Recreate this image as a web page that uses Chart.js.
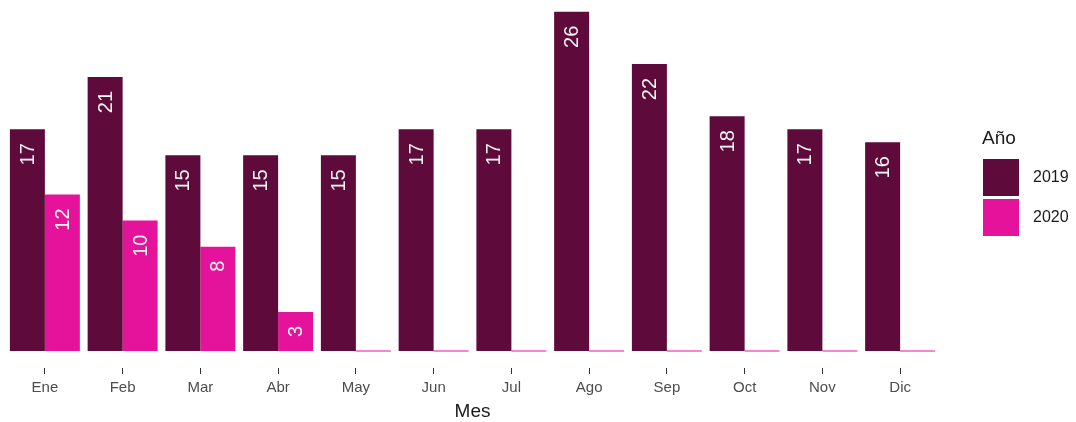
<!DOCTYPE html>
<html>
<head>
<meta charset="utf-8">
<script src="https://cdn.jsdelivr.net/npm/chart.js@4"></script>
<style>
  html, body { margin: 0; padding: 0; background: #fff; }
  #wrap { width: 1076px; height: 422px; position: relative; }
</style>
</head>
<body>
<div id="wrap"><canvas id="mesChart"></canvas></div>
<script>
// data
const meses = ['Ene', 'Feb', 'Mar', 'Abr', 'May', 'Jun', 'Jul', 'Ago', 'Sep', 'Oct', 'Nov', 'Dic'];
const anios = ['2019', '2020'];
const valores2019 = [17, 21, 15, 15, 15, 17, 17, 26, 22, 18, 17, 16];
const valores2020 = [12, 10, 8, 3, 0, 0, 0, 0, 0, 0, 0, 0];
const colores = ['#5e0a3b', '#e5139b'];

const FONT = '"Liberation Sans", Arial, sans-serif';

// rotated value labels inside the bars
const barLabels = {
  id: 'barLabels',
  afterDatasetsDraw(chart) {
    const ctx = chart.ctx;
    ctx.save();
    ctx.fillStyle = '#f4f4f4';
    ctx.font = '20px ' + FONT;
    ctx.textAlign = 'right';
    ctx.textBaseline = 'middle';
    chart.data.datasets.forEach((ds, i) => {
      chart.getDatasetMeta(i).data.forEach((bar, j) => {
        const v = ds.data[j];
        if (!v) return;
        ctx.save();
        ctx.translate(bar.x, bar.y + 14);
        ctx.rotate(-Math.PI / 2);
        ctx.fillText(String(v), 0, 1);
        ctx.restore();
      });
    });
    ctx.restore();
  }
};

// legend on the right, ggplot style
const sideLegend = {
  id: 'sideLegend',
  afterDraw(chart) {
    const ctx = chart.ctx;
    ctx.save();
    ctx.textBaseline = 'middle';
    ctx.textAlign = 'left';
    ctx.fillStyle = '#1a1a1a';
    ctx.font = '19px ' + FONT;
    ctx.fillText('Año', 982, 139);
    chart.data.datasets.forEach((ds, i) => {
      const y = 159 + i * 40;
      ctx.fillStyle = ds.backgroundColor;
      ctx.fillRect(983, y, 36, 37);
      ctx.fillStyle = '#1a1a1a';
      ctx.font = '16px ' + FONT;
      ctx.fillText(ds.label, 1033, y + 19);
    });
    ctx.restore();
  }
};

const datos = {
  labels: meses,
  datasets: [
    {
      label: anios[0],
      data: valores2019,
      backgroundColor: colores[0],
      categoryPercentage: 0.9,
      barPercentage: 1.0
    },
    {
      label: anios[1],
      data: valores2020,
      backgroundColor: colores[1],
      categoryPercentage: 0.9,
      barPercentage: 1.0,
      minBarLength: 1
    }
  ]
};

const config = {
  type: 'bar',
  data: datos,
  options: {
    responsive: false,
    animation: false,
    layout: { padding: { left: 6, right: 137, top: 0, bottom: 0 } },
    plugins: {
      legend: { display: false },
      tooltip: { enabled: false }
    },
    scales: {
      y: {
        display: false,
        min: -1.3,
        max: 26.9
      },
      x: {
        border: { display: false },
        grid: {
          offset: false,
          drawOnChartArea: false,
          tickLength: 6,
          color: '#333333',
          tickColor: '#333333'
        },
        ticks: {
          color: '#4d4d4d',
          font: { family: FONT, size: 15 },
          padding: 5,
          maxRotation: 0
        },
        title: {
          display: true,
          text: 'Mes',
          color: '#1a1a1a',
          font: { family: FONT, size: 19, lineHeight: 1 },
          padding: { top: 0, bottom: 1 }
        }
      }
    }
  },
  plugins: [barLabels, sideLegend]
};

const canvas = document.getElementById('mesChart');
canvas.width = 1076;
canvas.height = 422;
var myChart = new Chart(canvas, config);
</script>
</body>
</html>
